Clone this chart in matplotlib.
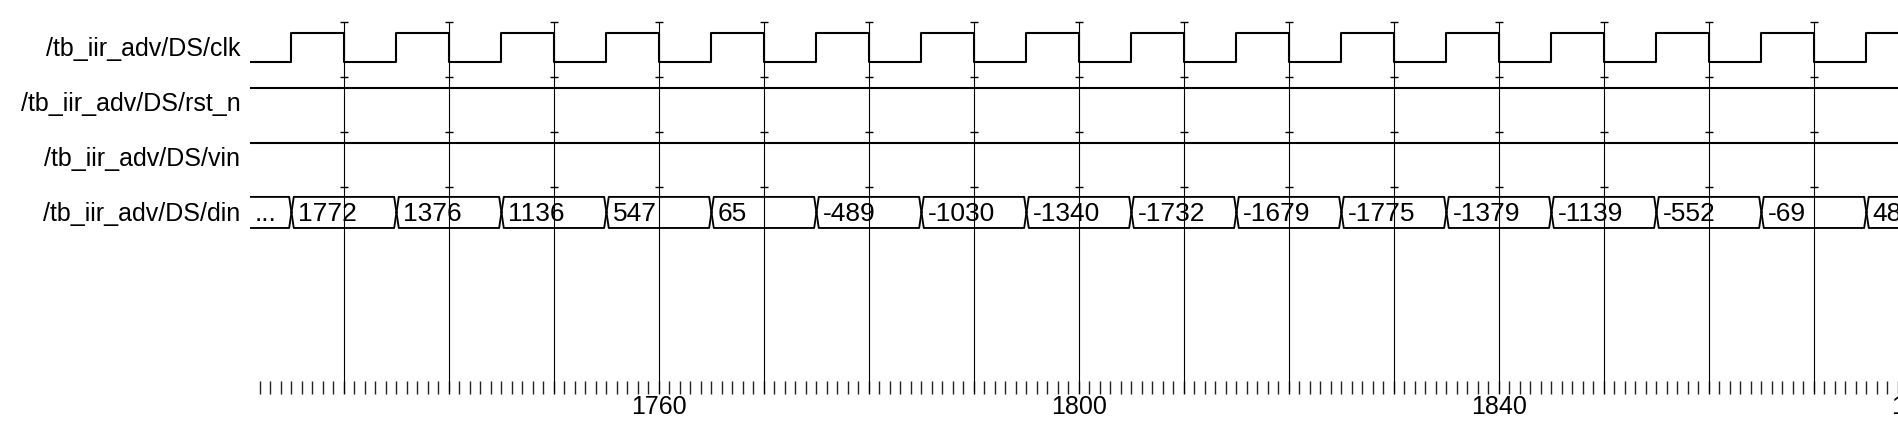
import matplotlib
matplotlib.use("Agg")
from matplotlib import pyplot as plt
from matplotlib.ticker import MultipleLocator
import matplotlib.transforms as mtransforms

plt.rcParams['font.family'] = ['Liberation Sans', 'DejaVu Sans']

# signal names (one row each)
signal_names = ["/tb_iir_adv/DS/clk", "/tb_iir_adv/DS/rst_n",
                "/tb_iir_adv/DS/vin", "/tb_iir_adv/DS/din"]

# clk: level before first edge is 0, then toggles at each edge
clk_start = 0
clk_edges = [1725, 1730, 1735, 1740, 1745, 1750, 1755, 1760, 1765, 1770,
             1775, 1780, 1785, 1790, 1795, 1800, 1805, 1810, 1815, 1820,
             1825, 1830, 1835, 1840, 1845, 1850, 1855, 1860, 1865, 1870, 1875]

rst_n_level = 1
vin_level = 1

# din bus: value changes at rising clk edges
din_first = "..."
din_times = [1725, 1735, 1745, 1755, 1765, 1775, 1785, 1795, 1805, 1815,
             1825, 1835, 1845, 1855, 1865, 1875]
din_values = ["1772", "1376", "1136", "547", "65", "-489", "-1030", "-1340",
              "-1732", "-1679", "-1775", "-1379", "-1139", "-552", "-69", "483"]

# cursor / grid lines (clk falling edges)
grid_times = [1730, 1740, 1750, 1760, 1770, 1780, 1790, 1800, 1810, 1820,
              1830, 1840, 1850, 1860, 1870]
axis_labels = [1760, 1800, 1840, 1880]

t_min, t_max = 1721.05, 1878.1
HIGH, LOW = 0.2, 0.727


def level_y(row, v):
    return row + (HIGH if v else LOW)


fig = plt.figure(figsize=(18.99, 4.29), dpi=100)
ax = fig.add_axes([250 / 1899, 35 / 429, 1649 / 1899, 394 / 429])
ax.set_xlim(t_min, t_max)
ax.set_ylim(6.7636, -0.4)
for s in ax.spines.values():
    s.set_visible(False)

lw = 1.5
# clk
ts = [t_min - 1] + clk_edges
lv = [clk_start]
for _ in clk_edges:
    lv.append(1 - lv[-1])
ts.append(t_max + 2)
lv.append(lv[-1])
ax.step(ts, [level_y(0, v) for v in lv], where='post', color='black', lw=lw)

# rst_n, vin
ax.plot([t_min - 1, t_max + 1], [level_y(1, rst_n_level)] * 2, color='black', lw=lw)
ax.plot([t_min - 1, t_max + 1], [level_y(2, vin_level)] * 2, color='black', lw=lw)

# din bus
top, bot = 3.18, 3.745
mid = (top + bot) / 2
d = 0.22
starts = [t_min - 2] + din_times
ends = din_times + [t_max + 5]
labels = [din_first] + din_values
for i, (t0, t1, lab) in enumerate(zip(starts, ends, labels)):
    xs = [t0, t0 + d, t1 - d, t1, t1 - d, t0 + d, t0]
    ys = [mid, top, top, mid, bot, bot, mid]
    ax.plot(xs, ys, color='black', lw=lw * 0.9)
    tx = t0 + 0.6 if i > 0 else t_min + 0.45
    ax.text(tx, mid - 0.02, lab, fontsize=19, ha='left', va='center_baseline',
            clip_on=True)

# grid lines with separator marks
ax.vlines(grid_times, 0, 6.7636, color='black', lw=0.8, zorder=5)
for r in range(4):
    ax.plot(grid_times, [r] * len(grid_times), ls='none', marker='_', ms=6,
            mew=1, color='black', zorder=5)

# y labels = signal names
ax.set_yticks([r + 0.45 for r in range(len(signal_names))])
ax.set_yticklabels(signal_names, fontsize=18)
ax.tick_params(axis='y', length=0, pad=7)

# time axis
ax.xaxis.set_major_locator(MultipleLocator(10))
ax.xaxis.set_minor_locator(MultipleLocator(1))
ax.tick_params(axis='x', which='both', direction='in', length=9.4, width=1.0,
               labelbottom=False, color='#222222')
trans = mtransforms.blended_transform_factory(ax.transData, ax.transAxes)
for t in axis_labels:
    ax.text(t, -0.002, str(t), transform=trans, fontsize=18, ha='center',
            va='top', clip_on=False)

fig.savefig("out.png", dpi=100, facecolor='white')
